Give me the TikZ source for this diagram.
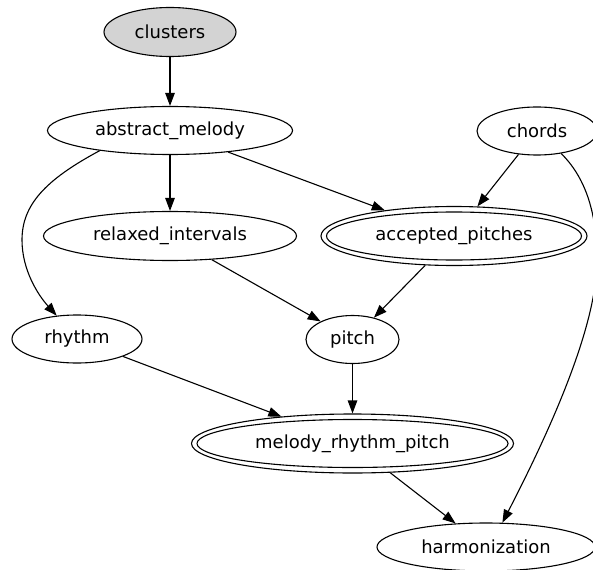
\documentclass[tikz,border=0pt]{standalone}
\usepackage{fontspec}
\setmainfont{DejaVu Sans}
\usetikzlibrary{arrows.meta,shapes.geometric}
\definecolor{lgray}{HTML}{D3D3D3}
\begin{document}
\begin{tikzpicture}[x=1pt,y=-1pt,
  nd/.style={ellipse, draw, line width=1.1pt, inner sep=0pt, minimum height=48pt,
             font=\fontsize{18}{22}\selectfont},
  outerring/.style={ellipse, draw, line width=1.1pt, inner sep=0pt, minimum height=59pt},
  edge/.style={line width=1.1pt, -{Triangle[length=13pt,width=9.5pt]}}]
\fill[white] (0,0) rectangle (593,569);
\useasboundingbox (0,0) rectangle (593,569);
\clip (0,0) rectangle (593,569);
% nodes
\node[nd, fill=lgray, minimum width=132pt, minimum height=49pt] (cl) at (170,32) {clusters};
\node[nd, minimum width=245pt] (am) at (170,130.5) {abstract\_melody};
\node[nd, minimum width=120pt] (ch) at (537,131) {chords};
\node[nd, minimum width=253pt, minimum height=49pt] (ri) at (170,236) {relaxed\_intervals};
\node[outerring, minimum width=266pt] (ap) at (454,236) {};
\node[nd, minimum width=255pt] (apin) at (454,236) {accepted\_pitches};
\node[nd, minimum width=130pt] (rh) at (77,339) {rhythm};
\node[nd, minimum width=93pt] (pi) at (352.5,339.5) {pitch};
\node[outerring, minimum width=322pt] (mrp) at (352.5,443.5) {};
\node[nd, minimum width=311pt] (mrpin) at (352.5,443.5) {melody\_rhythm\_pitch};
\node[nd, minimum width=218pt] (ha) at (486,547) {harmonization};
% edges
\draw[edge] (cl) -- (am);
\draw[edge] (am) -- (ri);
\draw[edge] (am) -- (ap);
\draw[edge] (am.196) .. controls (45,180) and (22,205) .. (22,240)
            .. controls (22,270) and (38,295) .. (rh.131);
\draw[edge] (ch) -- (ap);
\draw[edge] (ch.-43) .. controls (584,176) and (597,210) .. (597,260)
            .. controls (597,330) and (545,440) .. (ha.56);
\draw[edge] (ri) -- (pi);
\draw[edge] (ap) -- (pi);
\draw[edge] (rh) -- (mrp);
\draw[edge] (pi) -- (mrp);
\draw[edge] (mrp) -- (ha);
\end{tikzpicture}
\end{document}
